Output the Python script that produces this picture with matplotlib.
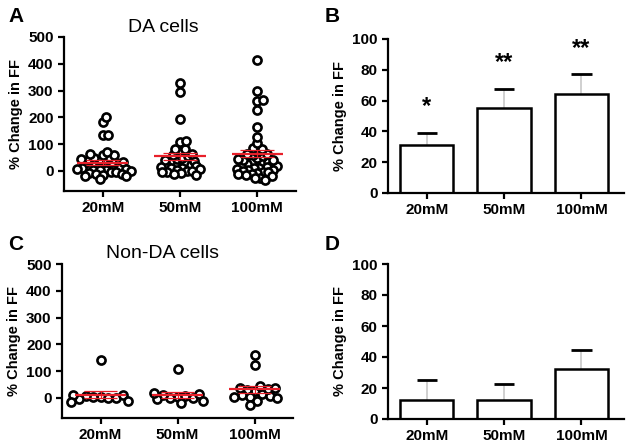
import matplotlib
matplotlib.use("Agg")
import matplotlib.pyplot as plt
import numpy as np

plt.rcParams["font.family"] = ["Liberation Sans", "DejaVu Sans"]

groups = ["20mM", "50mM", "100mM"]

# panel A: DA cells, % change in FF per cell
da_20 = [200, 184, 134, 134, 71, 62, 59, 59, 52, 48, 45, 42, 40, 38,
         35, 32, 30, 28, 25, 22, 20, 18, 15, 14, 12, 10, 8, 6, 5, 3, 2, 0,
         -3, -5, -8, -10, -12, -15, -18, -20, -32]
da_50 = [328, 293, 194, 112, 109, 81, 81, 74, 62, 59, 55, 50,
         45, 40, 38, 35, 30, 28, 25, 22, 20, 18, 15, 12, 10, 8, 5,
         0, -2, -3, -5, -8, -12, -16]
da_100 = [413, 300, 265, 262, 227, 163, 125, 105, 85, 80, 72, 65, 62, 60, 55, 50,
          45, 42, 40, 35, 32, 30, 28, 25, 22, 20, 18, 15, 12, 10, 8, 5, 3, 0,
          -3, -5, -8, -10, -12, -15, -20, -25, -28, -35]

# panel C: non-DA cells
non_20 = [142, 12, 10, 8, 5, 2, 0, -2, -5, -10, -15]
non_50 = [108, 20, 15, 12, 8, 5, 0, 0, -5, -10, -20]
non_100 = [160, 122, 45, 38, 38, 35, 30, 25, 15, 10, 8, 5, 3, 0, -10, -25]

# panels B / D: mean and SEM
da_mean = [31, 55, 64]
da_sem = [8, 12.5, 13]
da_stars = ["*", "**", "**"]
non_mean = [12, 12, 32]
non_sem = [13, 10.5, 12.5]

W, H = 629, 446
fig = plt.figure(figsize=(W / 100, H / 100), dpi=100)


def box(l, r, t, b):
    return [l / W, 1 - b / H, (r - l) / W, (b - t) / H]


def style(ax, ylim, yticks):
    ax.set_xlim(-0.5, 2.5)
    ax.set_ylim(*ylim)
    ax.set_yticks(yticks)
    ax.set_xticks(range(len(groups)))
    ax.set_xticklabels(groups)
    for s in ["top", "right"]:
        ax.spines[s].set_visible(False)
    for s in ["left", "bottom"]:
        ax.spines[s].set_linewidth(1.6)
    ax.tick_params(direction="out", length=4, width=1.6, labelsize=11)
    for lab in ax.get_xticklabels() + ax.get_yticklabels():
        lab.set_fontweight("bold")
    ax.set_ylabel("% Change in FF", fontsize=10.5, fontweight="bold", labelpad=4)


def swarm(ax, data, mean, sem, d):
    # d = collision distance in px (circles overlap like GraphPad)
    fig.canvas.draw()
    for i, vals in enumerate(data):
        vals = sorted(vals, key=lambda v: abs(v - np.median(vals)))
        placed = []
        xs = []
        for v in vals:
            px, py = ax.transData.transform((i, v))
            k = 0
            while True:
                ok = None
                for sgn in (1, -1):
                    x = px + sgn * k * 0.5
                    if all((x - a) ** 2 + (py - b) ** 2 >= d * d for a, b in placed):
                        ok = x
                        break
                if ok is not None:
                    break
                k += 1
            placed.append((ok, py))
            xs.append(ax.transData.inverted().transform((ok, py))[0])
        ax.scatter(xs, vals, s=34, facecolors="white", edgecolors="black",
                   linewidths=1.9, zorder=3, clip_on=False)
    x = np.arange(len(data))
    ax.hlines(mean, x - 0.33, x + 0.33, color="#e8202a", lw=1.6, zorder=4)
    ax.vlines(x, np.array(mean) - np.array(sem), np.array(mean) + np.array(sem),
              color="#e8202a", lw=0.8, zorder=4)
    ax.hlines(np.array(mean) + np.array(sem), x - 0.22, x + 0.22, color="#e8202a", lw=0.9, zorder=4)
    ax.hlines(np.array(mean) - np.array(sem), x - 0.22, x + 0.22, color="#e8202a", lw=0.9, zorder=4)


def bars(ax, mean, sem):
    x = np.arange(len(mean))
    top = np.array(mean) + np.array(sem)
    ax.vlines(x, mean, top, color="#c8c8c8", lw=1.2, zorder=1)
    ax.hlines(top, x - 0.13, x + 0.13, color="black", lw=2, zorder=2)
    ax.bar(x, mean, width=0.69, color="white", edgecolor="black", linewidth=1.8, zorder=2)


axA = fig.add_axes(box(64, 296, 37, 191))
style(axA, (-75, 500), range(0, 501, 100))
swarm(axA, [da_20, da_50, da_100], da_mean, da_sem, 5.2)

axB = fig.add_axes(box(388, 624, 39, 193))
style(axB, (0, 100), range(0, 101, 20))
axB.set_xlim(-0.5, 2.55)
bars(axB, da_mean, da_sem)
for i, st in enumerate(da_stars):
    axB.text(i, da_mean[i] + da_sem[i] + 17, st, ha="center", va="center",
             fontsize=17, fontweight="bold")

axC = fig.add_axes(box(62, 293, 264, 418))
style(axC, (-75, 500), range(0, 501, 100))
swarm(axC, [non_20, non_50, non_100], non_mean, non_sem, 7.5)

axD = fig.add_axes(box(388, 624, 264, 419))
style(axD, (0, 100), range(0, 101, 20))
axD.set_xlim(-0.5, 2.55)
bars(axD, non_mean, non_sem)

fig.text(163 / W, 1 - 28 / H, "DA cells", ha="center", va="center", fontsize=14)
fig.text(163 / W, 1 - 253 / H, "Non-DA cells", ha="center", va="center", fontsize=14)
for lx, ly, lab in [(8, 17, "A"), (325, 17, "B"), (8, 245, "C"), (325, 245, "D")]:
    fig.text(lx / W, 1 - ly / H, lab, ha="left", va="center", fontsize=15, fontweight="bold")

fig.savefig("out.png", dpi=100)
